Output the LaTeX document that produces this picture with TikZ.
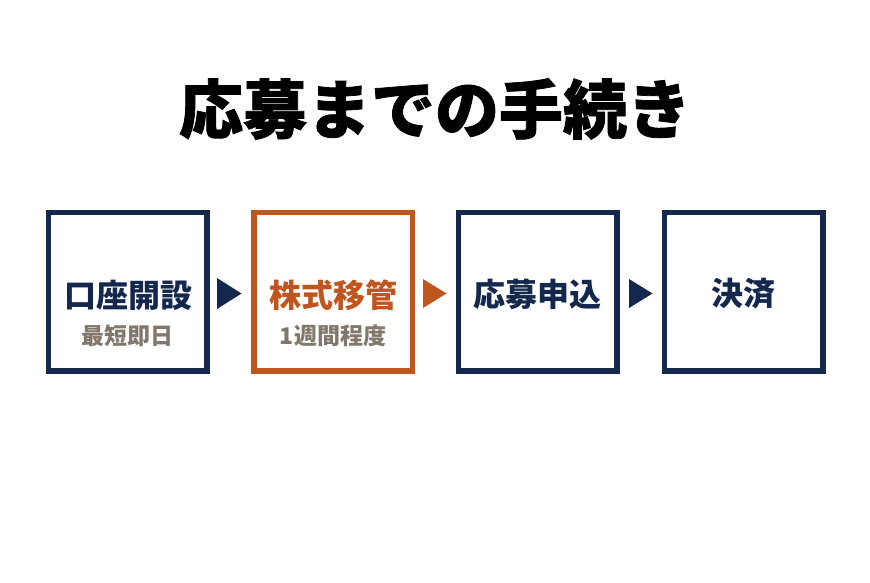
\documentclass[tikz,border=0pt]{standalone}
\usepackage{fontspec}
\newfontfamily\cjk{Noto Sans CJK JP}
\newfontfamily\cjkheavy{Noto Sans CJK JP}[BoldFeatures={FakeBold=1.2}]
\definecolor{navy}{HTML}{14284E}
\definecolor{rust}{HTML}{C0561F}
\definecolor{taupe}{HTML}{81776A}
\begin{document}
\begin{tikzpicture}[x=1pt,y=-1pt,
  stepbox/.style={draw=#1,line width=5.5pt,minimum width=158.5pt,minimum height=158.5pt,inner sep=0pt},
  maintext/.style={text=#1,font=\cjk\bfseries\fontsize{32}{32}\selectfont,inner sep=0pt,anchor=center},
  subtext/.style={text=taupe,font=\cjk\bfseries\fontsize{23}{23}\selectfont,inner sep=0pt,anchor=center},
  tri/.style={fill=#1}]
\useasboundingbox (0,0) rectangle (870,583);
\fill[white] (0,0) rectangle (870,583);
\node[font=\cjkheavy\bfseries\fontsize{64}{64}\selectfont,inner sep=0pt] (title) at (435,109) {応募までの手続き};
\node[stepbox=navy] (b1) at (127.5,291.5) {};
\node[stepbox=rust] (b2) at (333,291.5) {};
\node[stepbox=navy] (b3) at (537.5,291.5) {};
\node[stepbox=navy] (b4) at (743.5,291.5) {};
\node[maintext=navy] (t1) at (128.5,295) {口座開設};
\node[subtext] (s1) at (127,336) {最短即日};
\node[maintext=rust] (t2) at (333,295) {株式移管};
\node[subtext] (s2) at (333,336) {1週間程度};
\node[maintext=navy] (t3) at (537.5,294) {応募申込};
\node[maintext=navy] (t4) at (743.5,294) {決済};
\fill[navy] (217,278) -- (241.5,293.5) -- (217,309) -- cycle;
\fill[rust] (423,279) -- (446.5,293.5) -- (423,308) -- cycle;
\fill[navy] (629,279) -- (652.5,293.5) -- (629,308) -- cycle;
\end{tikzpicture}
\end{document}
